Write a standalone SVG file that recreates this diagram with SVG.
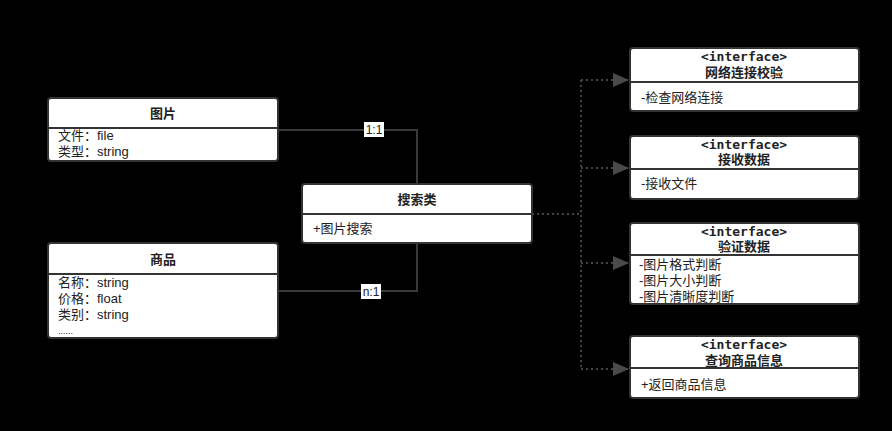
<svg xmlns="http://www.w3.org/2000/svg" width="892" height="431" viewBox="0 0 892 431">
<defs>
<style>
.box{fill:#fff;stroke:#333;stroke-width:2}
.div{stroke:#333;stroke-width:2}
.t{font-family:"Liberation Sans","Noto Sans CJK SC",sans-serif;font-size:13px;fill:#222}
.b{font-weight:bold;text-anchor:middle}
.if{font-family:"DejaVu Sans Mono","Noto Sans CJK SC",monospace;font-weight:bold;font-size:13px;text-anchor:middle;fill:#222}
.ln{fill:none;stroke:#3a3a3a;stroke-width:2}
.dot{fill:none;stroke:#444;stroke-width:2;stroke-dasharray:2 3}
.lbl{font-family:"Liberation Sans","Noto Sans CJK SC",sans-serif;font-size:12px;fill:#222;text-anchor:middle}
</style>
<marker id="arr" markerWidth="16" markerHeight="14" refX="16" refY="7" orient="auto" markerUnits="userSpaceOnUse">
<path d="M0,0 L16,7 L0,14 Z" fill="#4a4a4a"/>
</marker>
</defs>
<rect width="892" height="431" fill="#000"/>
<g id="connectors">
<path class="ln" d="M278,130 H417 V184"/>
<path class="ln" d="M278,291 H417 V243"/>
<rect x="364" y="122" width="20" height="15" fill="#fff"/>
<text class="lbl" x="374" y="134">1:1</text>
<rect x="361" y="284" width="20" height="15" fill="#fff"/>
<text class="lbl" x="371" y="296">n:1</text>
<path class="dot" d="M532,214 H581"/>
<path class="dot" d="M581,80 V369"/>
<path class="dot" d="M581,80 H629" marker-end="url(#arr)"/>
<path class="dot" d="M581,168 H629" marker-end="url(#arr)"/>
<path class="dot" d="M581,263 H629" marker-end="url(#arr)"/>
<path class="dot" d="M581,369 H629" marker-end="url(#arr)"/>
</g>
<g id="image">
<rect class="box" x="48" y="98" width="230" height="63" rx="3"/>
<line class="div" x1="48" y1="128" x2="278" y2="128"/>
<text class="t b" x="163" y="118">图片</text>
<text class="t" x="58" y="140">文件：file</text>
<text class="t" x="58" y="156">类型：string</text>
</g>
<g id="goods">
<rect class="box" x="48" y="243" width="230" height="95" rx="3"/>
<line class="div" x1="48" y1="274" x2="278" y2="274"/>
<text class="t b" x="163" y="264">商品</text>
<text class="t" x="58" y="287">名称：string</text>
<text class="t" x="58" y="303">价格：float</text>
<text class="t" x="58" y="319">类别：string</text>
<text class="t" x="58" y="334" style="font-size:9px">......</text>
</g>
<g id="search">
<rect class="box" x="302" y="184" width="230" height="59" rx="3"/>
<line class="div" x1="302" y1="214" x2="532" y2="214"/>
<text class="t b" x="417" y="204">搜索类</text>
<text class="t" x="313" y="233">+图片搜索</text>
</g>
<g id="if1">
<rect class="box" x="630" y="48" width="229" height="63" rx="3"/>
<line class="div" x1="630" y1="82" x2="859" y2="82"/>
<text class="if" x="744" y="61">&lt;interface&gt;</text>
<text class="t b" x="744" y="77">网络连接校验</text>
<text class="t" x="641" y="102">-检查网络连接</text>
</g>
<g id="if2">
<rect class="box" x="630" y="136" width="229" height="63" rx="3"/>
<line class="div" x1="630" y1="169" x2="859" y2="169"/>
<text class="if" x="744" y="149">&lt;interface&gt;</text>
<text class="t b" x="744" y="164">接收数据</text>
<text class="t" x="641" y="188">-接收文件</text>
</g>
<g id="if3">
<rect class="box" x="630" y="223" width="229" height="81" rx="3"/>
<line class="div" x1="630" y1="255" x2="859" y2="255"/>
<text class="if" x="744" y="236">&lt;interface&gt;</text>
<text class="t b" x="744" y="251">验证数据</text>
<text class="t" x="639" y="269">-图片格式判断</text>
<text class="t" x="639" y="285">-图片大小判断</text>
<text class="t" x="639" y="301">-图片清晰度判断</text>
</g>
<g id="if4">
<rect class="box" x="630" y="336" width="229" height="62" rx="3"/>
<line class="div" x1="630" y1="368" x2="859" y2="368"/>
<text class="if" x="744" y="349">&lt;interface&gt;</text>
<text class="t b" x="744" y="365">查询商品信息</text>
<text class="t" x="641" y="389">+返回商品信息</text>
</g>
</svg>
